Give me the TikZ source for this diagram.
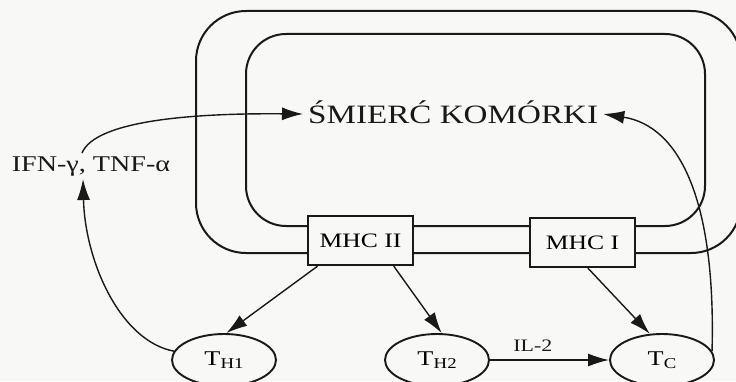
\documentclass[tikz,border=0pt]{standalone}
\usepackage{fontspec}
\setmainfont{Liberation Serif}[FakeStretch=1.25]
\usetikzlibrary{arrows.meta,shapes.geometric,calc}
\definecolor{paper}{RGB}{248,248,246}
\definecolor{ink}{RGB}{25,25,25}
\newcommand{\fsz}[1]{\fontsize{#1}{#1}\selectfont}
% T-cell label: capital T with a lowered, smaller index
\newcommand{\tcell}[1]{T\kern0.3pt\raisebox{-2.5pt}{\fsz{15}#1}}

\begin{document}
\begin{tikzpicture}[x=1pt,y=1pt,
  membrane/.style={draw=ink, line width=2pt},
  mhcbox/.style={draw=ink, fill=paper, line width=2.2pt, minimum width=105pt,
                 minimum height=49pt, inner sep=0pt, font=\fsz{20.5}},
  tcellnode/.style={draw=ink, fill=paper, ellipse, line width=1.9pt, minimum width=104pt,
                 minimum height=52pt, inner sep=0pt, font=\fsz{21}},
  flow/.style={draw=ink, line width=1.4pt, -{Latex[length=21pt,width=13pt]}},
  lbl/.style={text=ink, inner sep=2pt}
]
% paper and frame
\fill[paper] (0,0) rectangle (736,381);
\useasboundingbox (0,0) rectangle (736,381);
\clip (0,0) rectangle (736,381);

% double cell membrane
\draw[membrane, rounded corners=50pt] (196,128) rectangle (741,370);
\draw[membrane, rounded corners=40pt] (246,155) rectangle (705,347);

% MHC molecules set in the membrane
\node[mhcbox] (mhcii) at (360.5,140.5) {MHC II};
\node[mhcbox] (mhci)  at (582.5,138.5) {MHC I};

% centre label
\node[lbl, anchor=base west, text height=18pt, text depth=0pt, inner xsep=5pt,
      font=\fsz{26.5}] (smierc) at (303,258) {ŚMIERĆ KOMÓRKI};

% cytokines
\node[lbl, anchor=base, inner sep=3pt, font=\fsz{22.5}] (ifn) at (91,210) {IFN-γ, TNF-α};

% T cells
\node[tcellnode] (th1) at (224,21) {\tcell{H1}};
\node[tcellnode] (th2) at (437,21) {\tcell{H2}};
\node[tcellnode] (tc)  at (662,21) {\tcell{C}};

% antigen presentation
\draw[flow] ($(mhcii.south west)!0.10!(mhcii.south east)$) -- (th1.85);
\draw[flow] ($(mhcii.south west)!0.81!(mhcii.south east)$) -- (th2.80);
\draw[flow] ($(mhci.south west)!0.55!(mhci.south east)$) -- (tc.115);

% help from TH2 to TC
\draw[flow] (th2.east) -- node[lbl, above=6pt, pos=0.36, font=\fsz{17.5}] (il2) {IL-2} (tc.west);

% effector pathways
\draw[flow] (th1.170) .. controls (120,40) and (85,120) .. ([xshift=-8pt]ifn.south);
\draw[flow] ([xshift=-9pt]ifn.north) .. controls (95,260) and (190,268) .. (smierc.west);
\draw[flow] (tc.10) .. controls (716,180) and (680,255) .. (smierc.east);
\end{tikzpicture}
\end{document}
